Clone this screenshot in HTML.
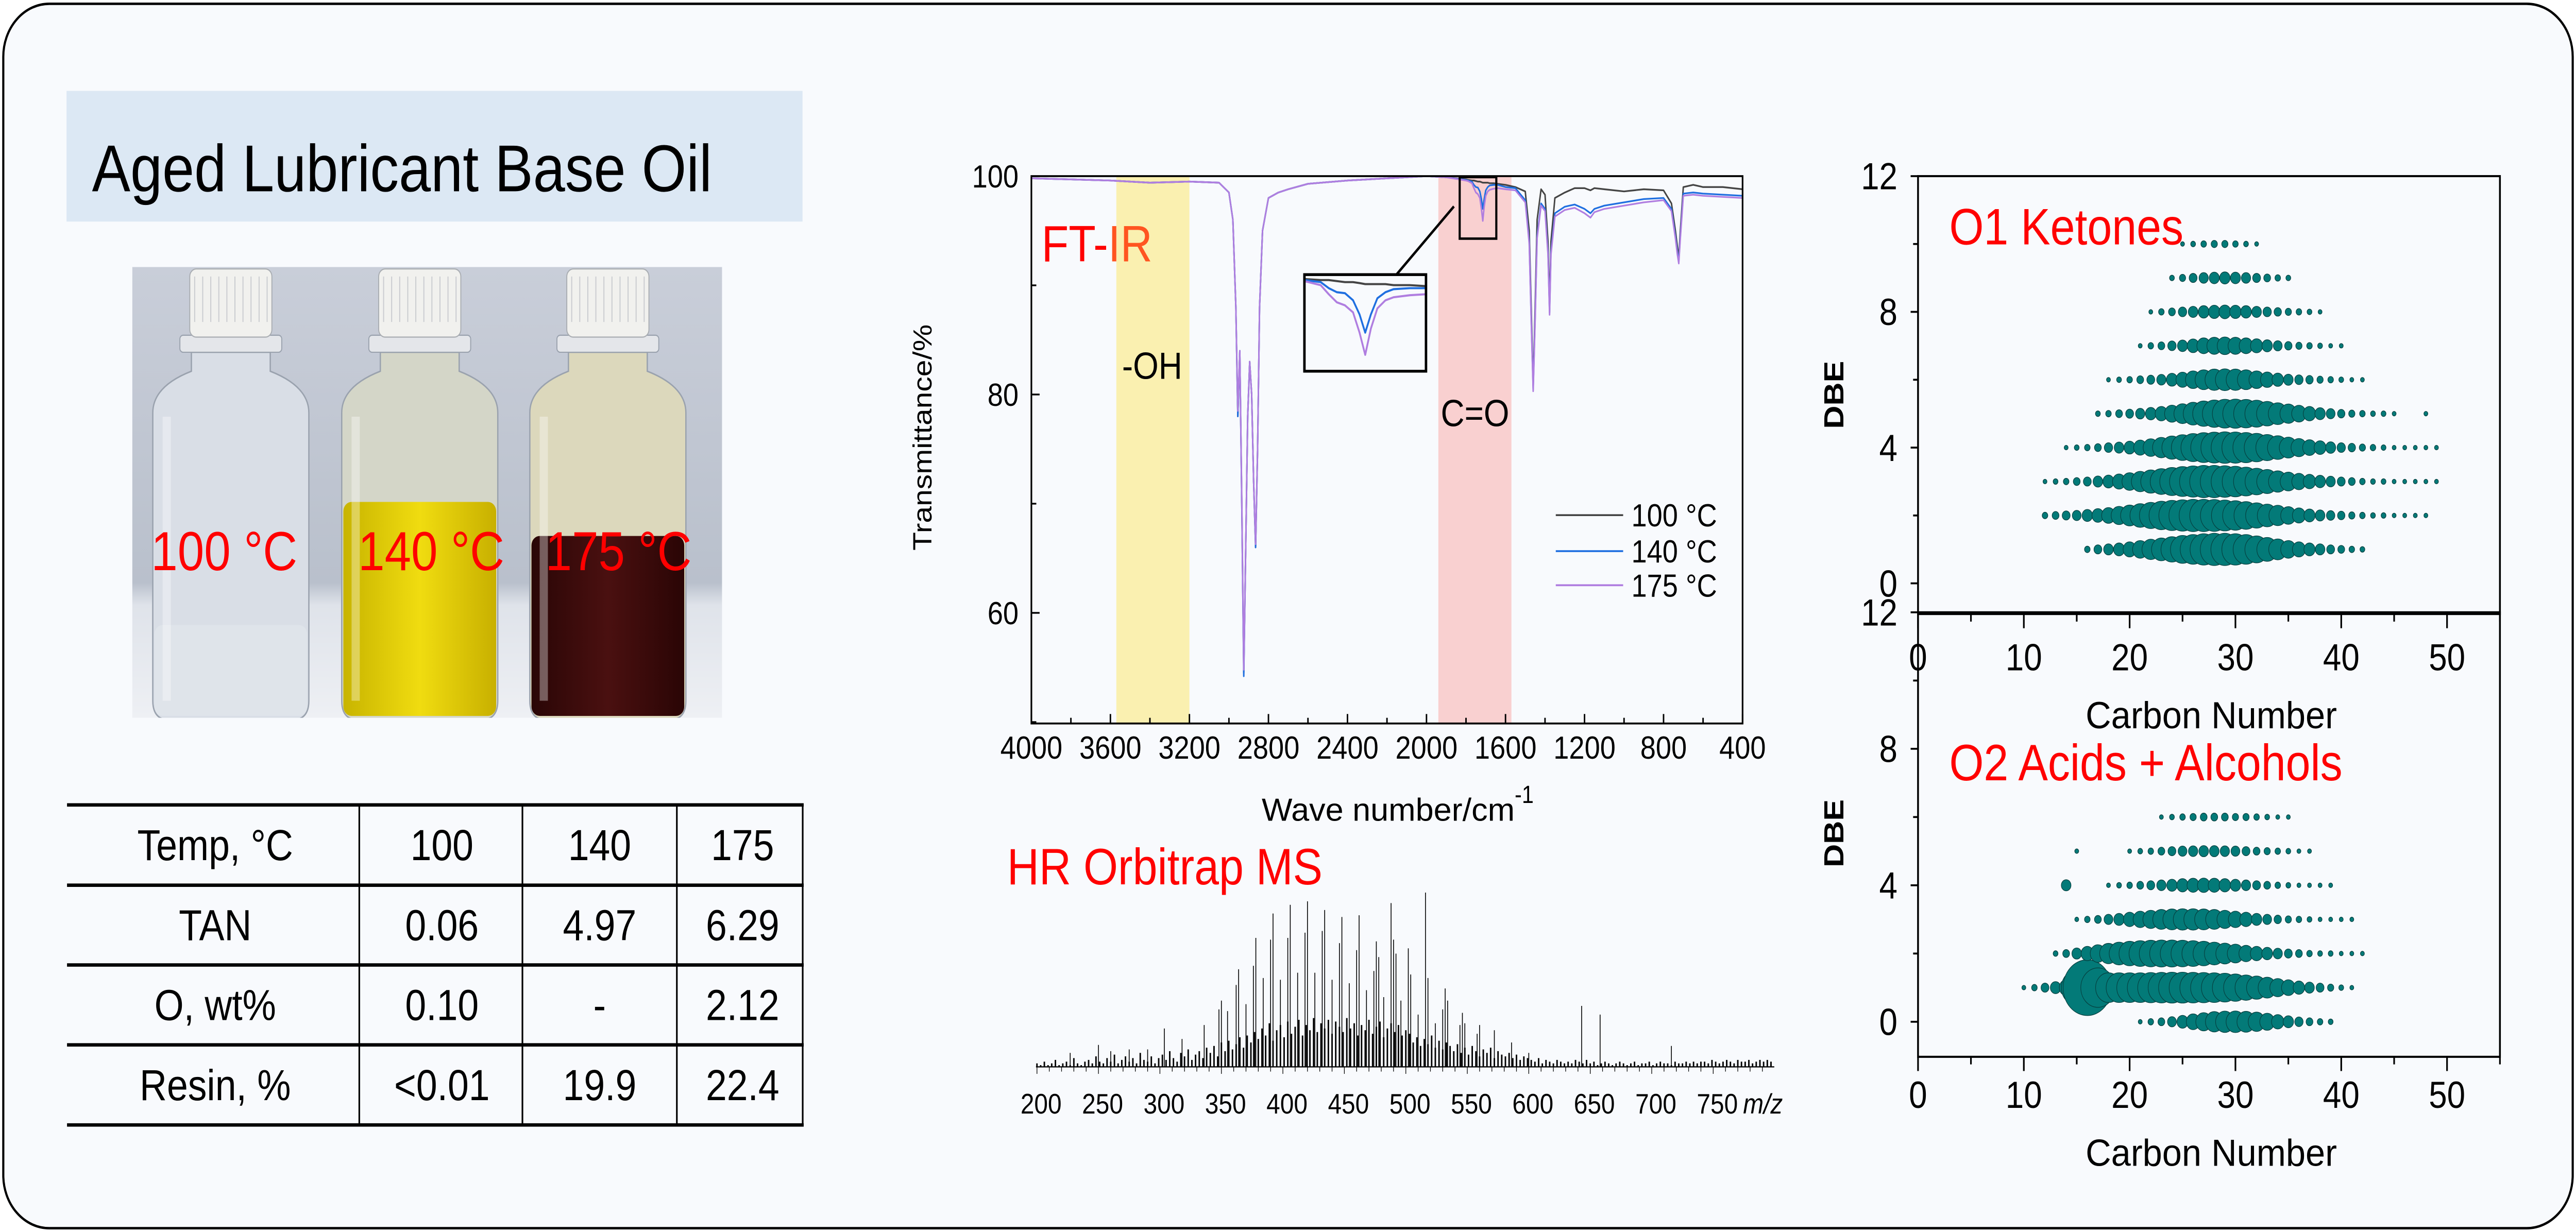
<!DOCTYPE html>
<html><head><meta charset="utf-8"><title>Aged Lubricant Base Oil</title>
<style>
html,body{margin:0;padding:0;background:#fff;overflow:hidden;width:100%;height:100%;}
svg{display:block;position:absolute;left:0;top:0;width:100vw;height:100vh;font-family:"Liberation Sans",Arial,sans-serif;}
</style></head>
<body>
<svg id="fig" xmlns="http://www.w3.org/2000/svg" viewBox="0 0 1568 650.5" preserveAspectRatio="none">
<defs>
<linearGradient id="wall" x1="0" y1="0" x2="0" y2="1">
<stop offset="0" stop-color="#c9ced9"/><stop offset="0.7" stop-color="#b9c0cc"/><stop offset="0.75" stop-color="#dfe3ea"/><stop offset="1" stop-color="#eef0f4"/></linearGradient>
<linearGradient id="yel" x1="0" y1="0" x2="1" y2="0"><stop offset="0" stop-color="#c8b400"/><stop offset="0.5" stop-color="#f0dc10"/><stop offset="1" stop-color="#c8b000"/></linearGradient>
<linearGradient id="brn" x1="0" y1="0" x2="1" y2="0"><stop offset="0" stop-color="#2a0606"/><stop offset="0.5" stop-color="#4a1010"/><stop offset="1" stop-color="#2a0505"/></linearGradient>
<clipPath id="photoClip"><rect x="80.5" y="141" width="359" height="238"/></clipPath>
<clipPath id="ftClip"><rect x="627.8" y="93" width="432.9" height="289"/></clipPath>
<clipPath id="inClip"><rect x="794" y="145" width="74" height="51"/></clipPath>
</defs>
<rect x="2" y="2" width="1564" height="646.5" rx="28" fill="#f8fafd" stroke="#000" stroke-width="1.3"/>

<rect x="40.5" y="48" width="448" height="69" fill="#dce8f4"/>
<text x="56" y="101" font-size="35" fill="#000">Aged Lubricant Base Oil</text>

<g clip-path="url(#photoClip)" id="photo">
<rect x="80.5" y="141" width="359" height="238" fill="url(#wall)"/>
</g>
<text x="92" y="301" font-size="29" fill="#ff0000">100 °C</text>
<text x="218" y="301" font-size="29" fill="#ff0000">140 °C</text>
<text x="332" y="301" font-size="29" fill="#ff0000">175 °C</text>

<g id="table" font-size="23"></g>
<g id="ftir"></g>
<g id="ms"></g>
<g id="o1"></g>
<g id="o2"></g>
</svg>
<script>
// ---------------- data ----------------
const tableRows = [["Temp,  °C","100","140","175"],["TAN","0.06","4.97","6.29"],["O, wt%","0.10","-","2.12"],["Resin, %","<0.01","19.9","22.4"]];

const irWn = [4000,3800,3600,3400,3200,3050,3000,2980,2965,2955,2945,2935,2925,2915,2905,2895,2885,2875,2865,2855,2845,2830,2800,2750,2700,2600,2400,2200,2000,1900,
1800,1790,1770,1760,1750,1740,1730,1722,1715,1708,1700,1690,1680,1660,1640,1600,
1550,1500,1480,1470,1460,1450,1440,1420,1400,1385,1377,1370,1350,1300,1250,1200,1170,1150,1100,1000,900,800,760,740,730,723,715,700,650,600,500,400];
const ir100 = [99.8,99.7,99.6,99.4,99.5,99.4,98.5,96,88,78,84,70,54.5,66,78,83,80,72,66,75,88,95,98,98.5,98.8,99.3,99.6,99.8,100,99.9,
99.7,99.65,99.6,99.6,99.55,99.5,99.5,99.45,99.4,99.4,99.4,99.4,99.35,99.35,99.3,99.2,
99.0,98.6,95,88,80.8,88,96,98.8,98.3,94,88,94,98,98.5,98.9,98.9,98.7,98.9,98.8,98.6,98.8,98.7,97.5,95,93.5,92.5,95,99,99.2,99.0,99.0,98.8];
const ir140 = [99.8,99.7,99.6,99.4,99.5,99.4,98.5,96,88,78,84,70,54.2,66,78,83,80,72,66,75,88,95,98,98.5,98.8,99.3,99.6,99.8,100,99.9,
99.65,99.6,99.5,99.2,99.0,98.95,98.6,97.9,97.0,97.9,98.7,99.0,99.15,99.2,99.2,99.0,
98.9,97.8,94,87,80.5,87,94.5,97.5,97.0,93,87.5,93,96.6,97.2,97.4,97.0,96.6,97.0,97.3,97.6,97.9,98.0,97,94.5,93,92.2,94.5,98.4,98.5,98.4,98.3,98.2];
const ir175 = [99.8,99.7,99.6,99.4,99.5,99.4,98.5,96,88,78.5,84,70.5,54.8,66,78,83,80,72,66.3,75,88,95,98,98.5,98.8,99.3,99.6,99.8,100,99.9,
99.6,99.55,99.35,98.9,98.5,98.35,98.0,97.0,95.9,97.2,98.2,98.6,98.75,98.85,98.9,98.8,
98.7,97.6,93.8,86.8,80.3,86.8,94.3,97.3,96.8,92.8,87.3,92.8,96.3,96.9,97.1,96.6,96.2,96.7,97.0,97.3,97.6,97.8,96.8,94.3,92.8,92.0,94.3,98.2,98.3,98.2,98.1,98.0];
const irXTicks = [4000,3600,3200,2800,2400,2000,1600,1200,800,400];
const irYTicks = [100,80,60];
const irSeriesNames = ["100 °C","140 °C","175 °C"];

const msPeakMz = [227,250,260,275,290,303.6,318,336,348,350,355,362,364,370,376,378,384,390,392,398,404,406,412,418,420,426,432,434,440,446,448,454,460,462,468,474,476,478,482,488,490,492,496,502,504,510,516,518,524,530,532,534,544,546,548,558,560,572,586,600,643,658,716];
const msPeakH = [8,12.6,9,10,10,22,16,24,33,38,32,47,56,36,58,74,51,73,88,50,74,93,54,77,95,54,78,90,50,71,86,48,67,87,44,55,72,63,40,94,73,65,38,68,53,30,100,51,25,33,45,38,24,31,25,19,24,21,14,8,35,30,12];
const msBgStart = 200, msBgStep = 3;
const msBg = [2,1,3,1,2,4,1,2,3,1,5,2,1,3,
4,2,6,3,2,5,3,7,2,4,6,3,5,2,8,4,3,6,2,5,
7,4,9,5,3,8,6,10,4,7,9,5,11,
8,12,6,14,9,15,10,13,17,11,18,14,20,
16,22,18,25,15,21,24,17,26,19,23,27,18,24,21,28,20,25,22,27,19,26,23,20,28,22,25,18,24,21,27,19,23,26,17,22,25,20,24,18,21,
19,14,17,12,16,13,18,11,15,10,14,12,9,
13,8,11,7,12,9,6,10,8,11,5,9,7,6,8,5,7,4,6,5,
4,3,5,2,4,3,2,4,3,2,3,2,4,
3,2,4,2,3,1,2,3,2,1,2,3,2,1,2,3,1,2,2,3,1,2,3,2,2,1,3,2,2,3,2,3,2,3,3,2,4,3,2,3,4,3,2,4,3,3,4,2,3,4,3,4,3];
const msTicks = [200,250,300,350,400,450,500,550,600,650,700,750];

const bubXTicks = [0,10,20,30,40,50];
const bubYTicks = [0,4,8,12];
const o1Dbe = [1,2,3,4,5,6,7,8,9,10];
const o1Start = [16,12,12,14,17,18,21,22,24,25];
const o1Int = [
[4,8,12,16,22,30,40,50,62,75,85,95,100,100,95,85,70,55,42,30,22,16,12,8,6,4,3],
[4,6,8,10,14,18,24,32,42,54,66,78,88,95,100,100,98,92,84,74,62,50,40,30,22,16,12,9,7,5,4,3,3,2,2,2,2],
[2,3,4,6,8,12,16,22,30,40,52,64,76,86,94,100,100,96,90,80,68,56,44,34,26,20,15,11,8,6,4,3,3,2,2,2,2,2],
[2,3,4,6,9,12,16,22,30,40,52,64,76,86,92,96,94,88,78,66,54,42,32,24,18,13,9,7,5,4,3,2,2,2,2,2],
[3,4,6,8,11,15,20,28,38,50,62,72,80,82,78,70,58,46,36,27,20,14,10,7,5,4,3,3,2,0,0,2],
[2,3,4,6,8,11,16,22,30,38,44,46,44,38,30,23,17,12,9,7,5,4,3,2,2],
[2,4,6,9,13,18,24,28,30,28,24,19,14,10,7,5,4,3,2,2],
[2,4,6,9,12,15,17,18,17,15,12,9,7,5,4,3,2],
[3,5,8,11,13,14,13,11,8,6,4,3],
[2,3,4,5,5,4,3,2]];
const o2Dbe = [0,1,2,3,4,5,6];
const o2Start = [21,10,13,15,14,15,23];
const o2Int = [
[2,4,6,10,16,24,32,40,44,45,42,36,28,20,14,9,6,4,3],
[2,4,8,14,24,120,300,150,85,85,85,85,88,90,92,92,90,88,85,80,72,62,52,42,32,24,17,12,8,5,3,2],
[3,6,12,20,30,40,50,58,64,68,70,70,68,64,58,50,42,34,26,20,15,11,8,6,4,3,3,2,2,2],
[2,4,6,10,14,20,26,32,38,42,44,44,42,38,32,26,20,14,10,7,5,4,3,2,2,2,2],
[12,0,0,0,2,3,4,6,8,11,14,17,19,20,19,17,14,11,8,6,4,3,2,2,2,2],
[2,0,0,0,0,2,3,4,6,8,10,11,12,12,11,10,8,6,5,4,3,2,2],
[2,3,4,5,6,6,6,5,5,4,3,2,2]];

// ---------------- helpers ----------------
const NS = "http://www.w3.org/2000/svg";
function mk(tag, attrs, parent){const e=document.createElementNS(NS,tag);for(const k in attrs)e.setAttribute(k,attrs[k]);parent.appendChild(e);return e;}
function txt(s, attrs, parent){const e=mk("text",attrs,parent);e.textContent=s;return e;}

// ---------------- photo ----------------
const photo = document.getElementById("photo");
function bottle(cx, liqTop, liqFill, upperFill, name){
  const g = mk("g",{},photo);
  
  
  const hw=47.5, nw=24;
  const d = `M${cx-nw} 186 L${cx-nw} 196 Q${cx-hw} 204 ${cx-hw} 218 L${cx-hw} 370 Q${cx-hw} 379 ${cx-hw+8} 380 L${cx+hw-8} 380 Q${cx+hw} 379 ${cx+hw} 370 L${cx+hw} 218 Q${cx+hw} 204 ${cx+nw} 196 L${cx+nw} 186 Z`;
  mk("path",{d:d,fill:upperFill,stroke:"#9aa2ae","stroke-width":"0.8"},g);
  mk("rect",{x:cx-hw+1,y:liqTop,width:2*hw-2,height:378-liqTop,rx:5,fill:liqFill},g);
  mk("rect",{x:cx-hw+6,y:220,width:5,height:150,fill:"#ffffff","fill-opacity":"0.35"},g);
  mk("rect",{x:cx-31,y:177,width:62,height:9,rx:2,fill:"#e4e6ea",stroke:"#9aa2ae","stroke-width":"0.6"},g);
  mk("rect",{x:cx-25,y:142,width:50,height:36,rx:4,fill:"#f1f1ee",stroke:"#a9adb2","stroke-width":"0.6"},g);
  for(let i=0;i<10;i++) mk("line",{x1:cx-22+i*4.9,y1:146,x2:cx-22+i*4.9,y2:170,stroke:"#c9cbcf","stroke-width":"0.6"},g);
}
bottle(140.5, 330, "#dfe4ea", "#d9dee6", "bottle-100c");
bottle(255.5, 265, "url(#yel)", "#d4d6c8", "bottle-140c");
bottle(370, 283, "url(#brn)", "#dcd8bc", "bottle-175c");

// ---------------- table ----------------
const tbl = document.getElementById("table");
const rowY = [425,467.4,509.5,551.7,594];
const colX = [40.8,218.7,318,412,488.6];
const colC = [131,269,365,452];
for(let i=0;i<rowY.length;i++){
  const l = mk("line",{x1:colX[0],y1:rowY[i],x2:colX[4]+0.6,y2:rowY[i],stroke:"#000","stroke-width":"1.8"},tbl);
  
  
}
for(let j=1;j<colX.length;j++){
  const l = mk("line",{x1:colX[j],y1:rowY[0],x2:colX[j],y2:rowY[4],stroke:"#000","stroke-width":"1"},tbl);
  
  
}
tableRows.forEach((r,i)=>{
  r.forEach((s,j)=>{
    const t = txt(s,{x:colC[j],y:(rowY[i]+rowY[i+1])/2+8,"text-anchor":"middle","font-size":"23"},tbl);
    
    
  });
});

// ---------------- FT-IR ----------------
const ft = document.getElementById("ftir");
const FX0=627.8, FX1=1060.7, FY0=93, FY1=382;
const xFT = w => FX0 + (4000-w)/3600*(FX1-FX0);
const yFT = t => FY0 + (100-t)*5.765;
const oh = mk("rect",{x:xFT(3570),y:FY0,width:xFT(3200)-xFT(3570),height:FY1-FY0,fill:"#faf0b0"},ft);


const co = mk("rect",{x:xFT(1940),y:FY0,width:xFT(1570)-xFT(1940),height:FY1-FY0,fill:"#f9d0d0"},ft);


const irColors = ["#444444","#1f6fe0","#b07ee0"];
const irData = [ir100, ir140, ir175];
const lineG = mk("g",{"clip-path":"url(#ftClip)"},ft);
irData.forEach((ser,k)=>{
  const pts = irWn.map((w,i)=>xFT(w).toFixed(2)+","+yFT(ser[i]).toFixed(2)).join(" ");
  const pl = mk("polyline",{points:pts,fill:"none",stroke:irColors[k],"stroke-width":"0.9","stroke-linejoin":"round"},lineG);
  
  
});
const frame = mk("rect",{x:FX0,y:FY0,width:FX1-FX0,height:FY1-FY0,fill:"none",stroke:"#000","stroke-width":"1"},ft);


irXTicks.forEach(w=>{
  const x=xFT(w);
  mk("line",{x1:x,y1:FY1,x2:x,y2:FY1-5,stroke:"#000","stroke-width":"0.9"},ft);
  if(w>400){const xm=xFT(w-200);mk("line",{x1:xm,y1:FY1,x2:xm,y2:FY1-3,stroke:"#000","stroke-width":"0.9"},ft);}
  const t=txt(String(w),{x:x,y:400.6,"text-anchor":"middle","font-size":"17"},ft);
  
  
});
irYTicks.forEach(v=>{
  const y=yFT(v);
  mk("line",{x1:FX0,y1:y,x2:FX0+5,y2:y,stroke:"#000","stroke-width":"0.9"},ft);
  const ym=yFT(v-10); if(ym<FY1) mk("line",{x1:FX0,y1:ym,x2:FX0+3,y2:ym,stroke:"#000","stroke-width":"0.9"},ft);
  const t=txt(String(v),{x:620,y:y+6,"text-anchor":"end","font-size":"17"},ft);
  
  
});
let t;
t=txt("Wave number/cm",{x:768,y:433.4,"font-size":"17",textLength:"154",lengthAdjust:"spacingAndGlyphs"},ft);


t=txt("-1",{x:922,y:424,"font-size":"13"},ft);


t=txt("Transmittance/%",{x:0,y:0,"font-size":"16","text-anchor":"middle",transform:"translate(567,231) rotate(-90)"},ft);


t=mk("text",{x:634,y:138,"font-size":"27",fill:"#ff0000"},ft);
t.innerHTML='FT-<tspan fill="#ff5520">IR</tspan>';


t=txt("-OH",{x:683,y:200,"font-size":"20"},ft);


t=txt("C=O",{x:877,y:225,"font-size":"20"},ft);


const zb = mk("rect",{x:888.5,y:93.5,width:22.3,height:32.5,fill:"none",stroke:"#000","stroke-width":"1.3"},ft);


const cl = mk("line",{x1:885,y1:109,x2:850,y2:145,stroke:"#000","stroke-width":"1.4"},ft);


const inBg = mk("rect",{x:794,y:145,width:74,height:51,fill:"#f8fafd"},ft);


const xIn = w => 794 + (1790-w)/150*74;
const yIn = v => 145 + (99.87-v)/4.78*51;
const inG = mk("g",{"clip-path":"url(#inClip)"},ft);
irData.forEach((ser,k)=>{
  const pts = irWn.map((w,i)=>xIn(w).toFixed(2)+","+yIn(ser[i]).toFixed(2)).join(" ");
  const pl = mk("polyline",{points:pts,fill:"none",stroke:irColors[k],"stroke-width":"1.1","stroke-linejoin":"round"},inG);
  
  
});
const inF = mk("rect",{x:794,y:145,width:74,height:51,fill:"none",stroke:"#000","stroke-width":"1.5"},ft);


const legY=[272,291,309];
irSeriesNames.forEach((n,k)=>{
  const l=mk("line",{x1:947,y1:legY[k],x2:988,y2:legY[k],stroke:irColors[k],"stroke-width":"1"},ft);
  
  
  const tt=txt(n,{x:993,y:legY[k]+6,"font-size":"17"},ft);
  
  
});

// ---------------- MS ----------------
const ms = document.getElementById("ms");
const xMS = m => 631.2 + (m-200)*0.7484;
const yMS = h => 563.3 - h*0.92;
t=txt("HR Orbitrap MS",{x:613,y:467,"font-size":"27",fill:"#ff0000"},ms);


let dBg="";
msBg.forEach((h,i)=>{const x=xMS(msBgStart+i*msBgStep).toFixed(2);dBg+=`M${x} 563.3V${yMS(h).toFixed(2)}`;});
const bgp = mk("path",{d:dBg,stroke:"#000","stroke-width":"0.9",fill:"none"},ms);


let dPk="";
msPeakMz.forEach((m,i)=>{const x=xMS(m).toFixed(2);dPk+=`M${x} 563.3V${yMS(msPeakH[i]).toFixed(2)}`;});
const pkp = mk("path",{d:dPk,stroke:"#000","stroke-width":"0.5",fill:"none"},ms);


const ax = mk("line",{x1:630.6,y1:563.3,x2:1080,y2:563.3,stroke:"#000","stroke-width":"0.6"},ms);


for(let m=200;m<=790;m+=10){const x=xMS(m);mk("line",{x1:x,y1:563.3,x2:x,y2:m%50===0?567:565.8,stroke:"#000","stroke-width":"0.4"},ms);}
msTicks.forEach(m=>{
  const tt=txt(String(m),{x:xMS(m)+2.5,y:588,"text-anchor":"middle","font-size":"15"},ms);
  
  
});
t=txt("m/z",{x:1061,y:588,"font-size":"15","font-style":"italic"},ms);



// ---------------- bubbles ----------------
const BX0=1167.5, BX1=1521.7;
const xB = c => BX0 + c*(BX1-BX0)/55;
function bubblePlot(g, yTop0, yTop12, yBottom, dbe, start, ints, title, titleY, dbeY, labelsY){
  const yD = d => yTop0 - d*(yTop0-yTop12)/12;
  const fr = mk("rect",{x:BX0,y:yTop12,width:BX1-BX0,height:yBottom-yTop12,fill:"none",stroke:"#000","stroke-width":"1.1"},g);
  
  
  dbe.forEach((d,r)=>{
    ints[r].forEach((v,i)=>{
      if(v<=0) return;
      const rad = Math.max(1.1, 8.5*Math.sqrt(v/100));
      const c = mk("circle",{cx:xB(start[r]+i).toFixed(2),cy:yD(d).toFixed(2),r:rad.toFixed(2),fill:"#037a78",stroke:"#063f3f","stroke-width":"0.35"},g);
      
      
    });
  });
  bubYTicks.forEach(v=>{
    const y=yD(v);
    mk("line",{x1:BX0-4.5,y1:y,x2:BX0,y2:y,stroke:"#000","stroke-width":"1"},g);
    if(v<12){const ym=yD(v+2);mk("line",{x1:BX0-3,y1:ym,x2:BX0,y2:ym,stroke:"#000","stroke-width":"1"},g);}
    const tt=txt(String(v),{x:1155,y:y+7,"text-anchor":"end","font-size":"20"},g);
    
    
  });
  for(let c=0;c<=55;c+=5){const x=xB(c);mk("line",{x1:x,y1:yBottom,x2:x,y2:yBottom+(c%10===0?7.5:4),stroke:"#000","stroke-width":"1"},g);}
  bubXTicks.forEach(c=>{
    const tt=txt(String(c),{x:xB(c),y:labelsY,"text-anchor":"middle","font-size":"20"},g);
    
    
  });
  let tt=txt("Carbon Number",{x:1269.5,y:labelsY+30.5,"font-size":"20",textLength:"153",lengthAdjust:"spacingAndGlyphs"},g);
  
  
  tt=txt("DBE",{x:0,y:0,"font-size":"17","font-weight":"bold","text-anchor":"middle",transform:`translate(1122,${dbeY}) rotate(-90)`},g);
  
  
  tt=txt(title,{x:1186.5,y:titleY,"font-size":"27",fill:"#ff0000"},g);
  
  
}
bubblePlot(document.getElementById("o2"), 539.5, 323.3, 558, o2Dbe, o2Start, o2Int, "O2 Acids + Alcohols", 412, 440, 585);
bubblePlot(document.getElementById("o1"), 308, 93, 324.2, o1Dbe, o1Start, o1Int, "O1 Ketones", 129, 208.5, 354);
</script>
</body></html>
